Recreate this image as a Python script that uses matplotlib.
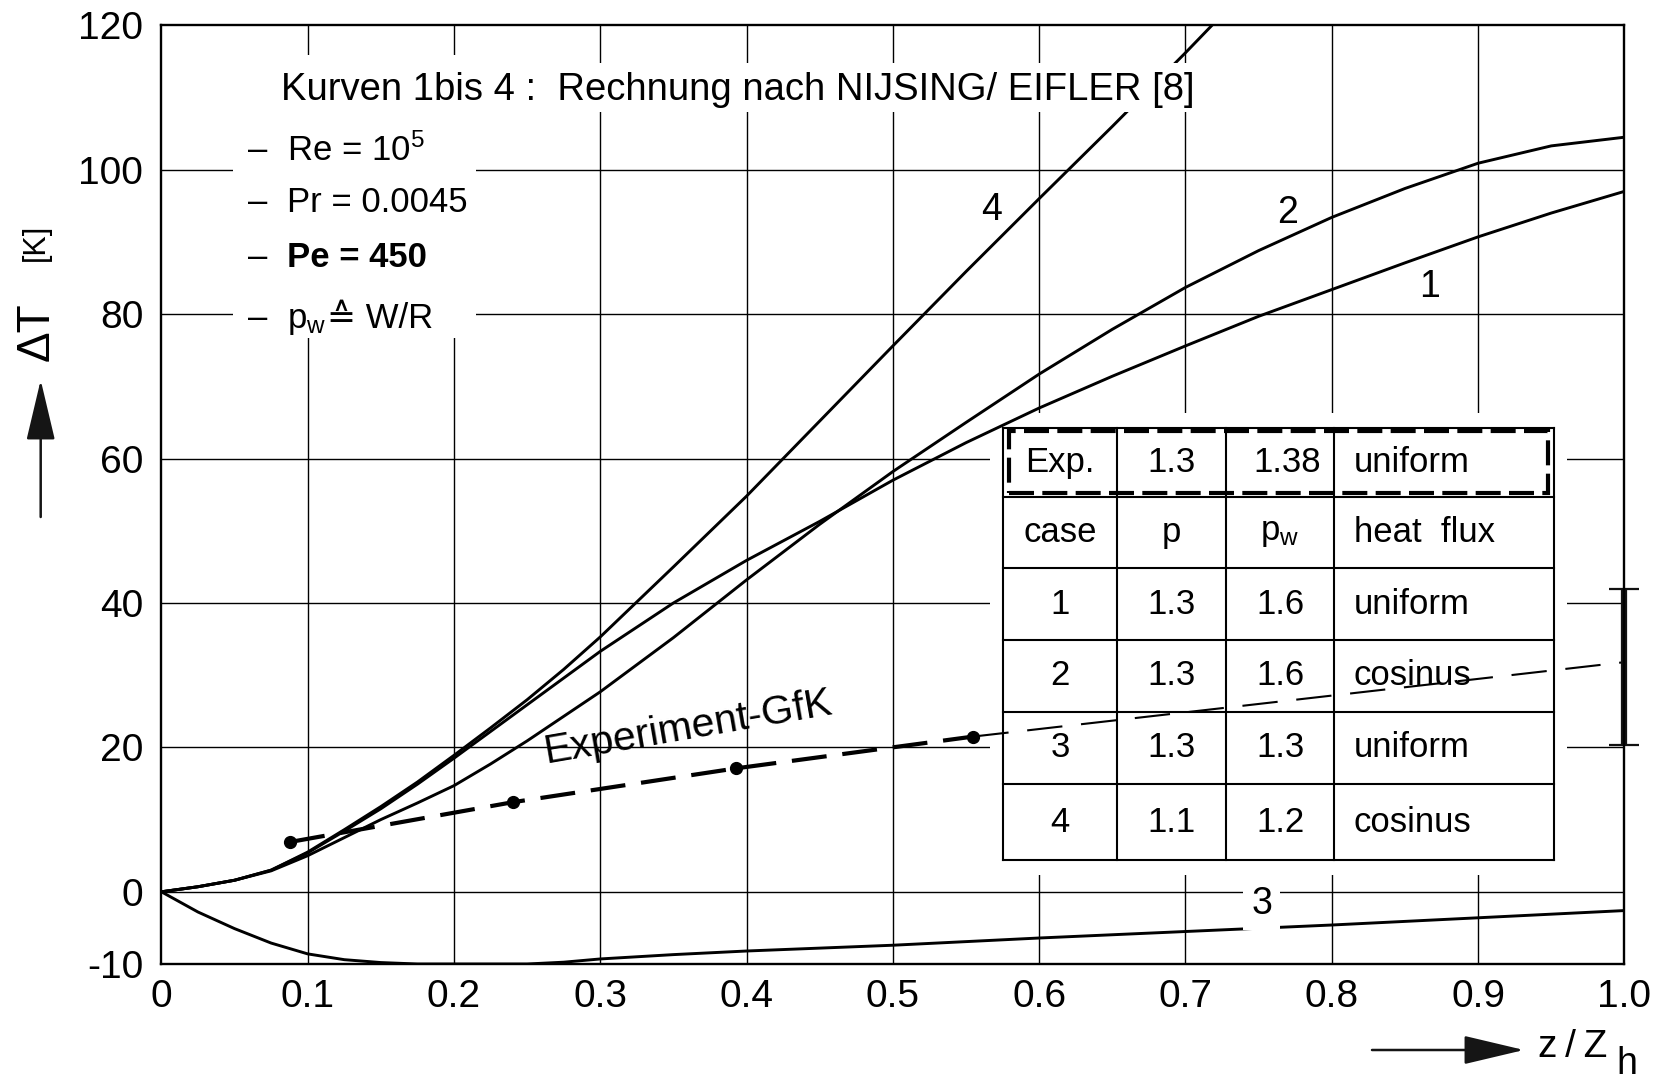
import matplotlib
matplotlib.use("Agg")
import matplotlib.pyplot as plt
from matplotlib.patches import Rectangle

# ---------------- fonts ----------------
TEXT_FAMILY = ["Liberation Sans", "DejaVu Sans"]
TICK_FAMILY = ["Liberation Sans Narrow", "Liberation Sans", "DejaVu Sans"]
plt.rcParams["font.family"] = TEXT_FAMILY
plt.rcParams["mathtext.fontset"] = "custom"
plt.rcParams["mathtext.rm"] = "Liberation Sans"
plt.rcParams["mathtext.it"] = "Liberation Sans:italic"
plt.rcParams["mathtext.bf"] = "Liberation Sans:bold"

# ---------------- data ----------------
# curve 1: p = 1.3, p_w = 1.6, uniform heat flux
z_case1 = [0, 0.025, 0.05, 0.075, 0.1, 0.125, 0.15, 0.175, 0.2, 0.225, 0.25, 0.275,
           0.3, 0.35, 0.4, 0.45, 0.5, 0.55, 0.6, 0.65, 0.7, 0.75, 0.8, 0.85, 0.9, 0.95, 1.0]
dT_case1 = [0, 0.7, 1.6, 3.0, 5.4, 8.4, 11.5, 14.9, 18.5, 22.2, 25.9, 29.6,
            33.3, 40.0, 45.9, 51.3, 57.0, 62.2, 67.0, 71.4, 75.6, 79.7, 83.4, 87.1, 90.7, 94.0, 97.0]

# curve 2: p = 1.3, p_w = 1.6, cosine heat flux
z_case2 = [0, 0.025, 0.05, 0.075, 0.1, 0.125, 0.15, 0.175, 0.2, 0.225, 0.25, 0.275,
           0.3, 0.35, 0.4, 0.45, 0.5, 0.55, 0.6, 0.65, 0.7, 0.75, 0.8, 0.85, 0.9, 0.95, 1.0]
dT_case2 = [0, 0.7, 1.6, 2.9, 5.0, 7.5, 10.0, 12.3, 14.7, 17.7, 20.9, 24.3,
            27.7, 35.2, 43.2, 50.9, 58.2, 65.0, 71.7, 77.9, 83.7, 88.8, 93.4, 97.4, 100.9, 103.3, 104.5]

# curve 3: p = 1.3, p_w = 1.3, uniform heat flux
z_case3 = [0, 0.025, 0.05, 0.075, 0.1, 0.125, 0.15, 0.175, 0.2, 0.25, 0.275,
           0.3, 0.35, 0.4, 0.5, 0.6, 0.7, 0.8, 0.9, 1.0]
dT_case3 = [0, -2.8, -5.1, -7.1, -8.6, -9.4, -9.8, -10.0, -10.0, -10.0, -9.75,
            -9.3, -8.7, -8.2, -7.4, -6.4, -5.5, -4.6, -3.6, -2.6]

# curve 4: p = 1.1, p_w = 1.2, cosine heat flux
z_case4 = [0, 0.025, 0.05, 0.075, 0.1, 0.125, 0.15, 0.175, 0.2, 0.225, 0.25, 0.275,
           0.3, 0.35, 0.4, 0.45, 0.5, 0.55, 0.6, 0.65, 0.7, 0.72]
dT_case4 = [0, 0.7, 1.6, 3.0, 5.5, 8.6, 11.8, 15.2, 18.9, 22.7, 26.6, 30.8,
            35.3, 45.0, 54.8, 65.2, 75.6, 85.9, 96.0, 106.0, 116.2, 120.4]

# GfK experiment: measured points and extrapolated trend to the outlet
z_exp = [0.088, 0.240, 0.393, 0.555]
dT_exp = [6.9, 12.4, 17.1, 21.5]
z_exp_trend = [0.555, 1.0]
dT_exp_trend = [21.5, 31.8]

# scatter band of the measurement at the outlet
z_band = 1.0
dT_band_low = 20.3
dT_band_high = 42.0

# axis ticks
x_ticks = [0, 0.1, 0.2, 0.3, 0.4, 0.5, 0.6, 0.7, 0.8, 0.9, 1.0]
x_tick_labels = ["0", "0.1", "0.2", "0.3", "0.4", "0.5", "0.6", "0.7", "0.8", "0.9", "1.0"]
y_ticks = [-10, 0, 20, 40, 60, 80, 100, 120]
y_tick_labels = ["-10", "0", "20", "40", "60", "80", "100", "120"]

# table of parameter cases
table_rows = [
    ["Exp.", "1.3", "1.38", "uniform"],
    ["case", "p", r"p$_{\mathrm{w}}$", "heat  flux"],
    ["1", "1.3", "1.6", "uniform"],
    ["2", "1.3", "1.6", "cosinus"],
    ["3", "1.3", "1.3", "uniform"],
    ["4", "1.1", "1.2", "cosinus"],
]

title_text = "Kurven 1bis 4 :  Rechnung nach NIJSING/ EIFLER [8]"
param_texts = [r"Re = 10$^{5}$", "Pr = 0.0045", "Pe = 450", r"p$_{\mathrm{w}}$"]

# ---------------- figure ----------------
W, H = 1654, 1083
fig = plt.figure(figsize=(W / 100, H / 100), dpi=100)
ax = fig.add_axes([161.4 / W, 1 - 964 / H, (1624.4 - 161.4) / W, (964 - 25.3) / H])
ax.set_xlim(0, 1)
ax.set_ylim(-10, 120)

for s in ax.spines.values():
    s.set_linewidth(1.7)
    s.set_zorder(7)

ax.set_xticks(x_ticks, x_tick_labels)
ax.set_yticks(y_ticks, y_tick_labels)
ax.tick_params(axis="both", length=0)
ax.tick_params(axis="x", pad=11)
ax.tick_params(axis="y", pad=13)
for lbl in ax.get_xticklabels() + ax.get_yticklabels():
    lbl.set_fontfamily(TICK_FAMILY)
    lbl.set_fontsize(28)

# grid
for x in x_ticks[1:-1]:
    ax.axvline(x, color="black", lw=1.0, zorder=1)
for y in y_ticks[1:-1]:
    ax.axhline(y, color="black", lw=1.0, zorder=1)

# white areas behind the annotation block and the table
ax.add_patch(Rectangle((0.0489, 76.7), 0.215 - 0.0489, 115.9 - 76.7,
                       fc="white", ec="none", zorder=2))

col_edges = [0.5755, 0.6532, 0.7275, 0.8017, 0.9517]
row_edges = [64.19, 54.63, 44.80, 34.87, 24.94, 14.93, 4.40]
mx, my = 0.0089, 2.1
ax.add_patch(Rectangle((col_edges[0] - mx, row_edges[-1] - my),
                       col_edges[-1] - col_edges[0] + 2 * mx,
                       row_edges[0] - row_edges[-1] + 2 * my,
                       fc="white", ec="none", zorder=2))

# computed curves
for zz, tt in [(z_case1, dT_case1), (z_case2, dT_case2), (z_case3, dT_case3), (z_case4, dT_case4)]:
    ax.plot(zz, tt, color="black", lw=2.1, zorder=3, solid_capstyle="round",
            solid_joinstyle="round")

# title block mask (hides grid and curve 4 behind the heading)
ax.add_patch(Rectangle((0.074, 108.0), 0.7045 - 0.074, 114.8 - 108.0,
                       fc="white", ec="none", zorder=5))

# experiment
ax.plot(z_exp, dT_exp, color="black", lw=3.0, dashes=(8.4, 3.8), zorder=4)
ax.plot(z_exp_trend, dT_exp_trend, color="black", lw=1.5, dashes=(17, 9), zorder=4)
ax.plot(z_exp, dT_exp, "o", color="black", ms=8.5, zorder=4)

eb = ax.errorbar([z_band], [(dT_band_low + dT_band_high) / 2],
                 yerr=[[(dT_band_high - dT_band_low) / 2], [(dT_band_high - dT_band_low) / 2]],
                 fmt="none", ecolor="#111111", elinewidth=4.5, capsize=11, capthick=1.6, zorder=6)
for art in eb.get_children():
    art.set_clip_on(False)

# table
for xe in col_edges:
    ax.plot([xe, xe], [row_edges[-1], row_edges[0]], color="black", lw=1.5, zorder=5)
for ye in row_edges:
    ax.plot([col_edges[0], col_edges[-1]], [ye, ye], color="black", lw=1.5, zorder=5)
ax.add_patch(Rectangle((0.5795, 55.23), 0.9478 - 0.5795, 63.81 - 55.23,
                       fill=False, ec="black", lw=3.0, linestyle=(0, (6, 2)), zorder=5))

for r, row in enumerate(table_rows):
    yc = (row_edges[r] + row_edges[r + 1]) / 2
    for c, cell in enumerate(row):
        if c == 3:
            ax.text(0.8150, yc, cell, ha="left", va="center", fontsize=25, zorder=6)
        elif r == 0 and c == 2:
            ax.text(col_edges[3] - 0.009, yc, cell, ha="right", va="center", fontsize=25, zorder=6)
        else:
            ax.text((col_edges[c] + col_edges[c + 1]) / 2, yc, cell,
                    ha="center", va="center", fontsize=25, zorder=6)

# headings and parameters
ax.text(0.082, 109.6, title_text, ha="left", va="baseline", fontsize=27.5, zorder=6)
param_baselines = [101.3, 94.1, 86.5, 78.1]
for txt, yb in zip(param_texts, param_baselines):
    ax.text(0.066, yb, "\u2013", ha="center", va="baseline", fontsize=25, zorder=6)
    ax.text(0.0859, yb, txt, ha="left", va="baseline", fontsize=25, zorder=6,
            fontweight="bold" if txt.startswith("Pe") else "normal")
ax.text(0.1135, 78.1, "\u2259 W/R", ha="left", va="baseline", fontsize=25, zorder=6)

# curve labels
ax.text(0.5675, 94.4, "4", ha="center", va="center", fontsize=27, zorder=6)
ax.text(0.770, 94.0, "2", ha="center", va="center", fontsize=27, zorder=6)
ax.text(0.867, 83.8, "1", ha="center", va="center", fontsize=27, zorder=6)
ax.text(0.752, -1.7, "3", ha="center", va="center", fontsize=27, zorder=6,
        bbox=dict(fc="white", ec="none", pad=6))

ax.text(0.2629, 17.8, "Experiment-GfK", ha="left", va="baseline", fontsize=29.5,
        rotation=9.8, rotation_mode="anchor", zorder=6)

# axis labels with arrows (figure pixel positions)
arrow_kw = dict(arrowstyle="-|>,head_length=1.9,head_width=0.45", color="#151515",
                lw=1.8, shrinkA=0, shrinkB=0, mutation_scale=20)
ax.annotate("", xy=(40.7, H - 380), xytext=(40.7, H - 517),
            xycoords="figure pixels", textcoords="figure pixels", arrowprops=arrow_kw)
ax.annotate("", xy=(1524, H - 1050), xytext=(1372, H - 1050),
            xycoords="figure pixels", textcoords="figure pixels", arrowprops=arrow_kw)

fig.text(37 / W, 1 - 332 / H, "\u0394T", rotation=90, ha="center", va="center", fontsize=33)
fig.text(36 / W, 1 - 242 / H, "[K]", rotation=90, ha="center", va="center", fontsize=22)
fig.text(1538 / W, 1 - 1047 / H, "z\u2009/\u2009Z", ha="left", va="center", fontsize=28)
fig.text(1616 / W, 1 - 1046 / H, "h", ha="left", va="top", fontsize=27)

fig.savefig("out.png", dpi=100)
